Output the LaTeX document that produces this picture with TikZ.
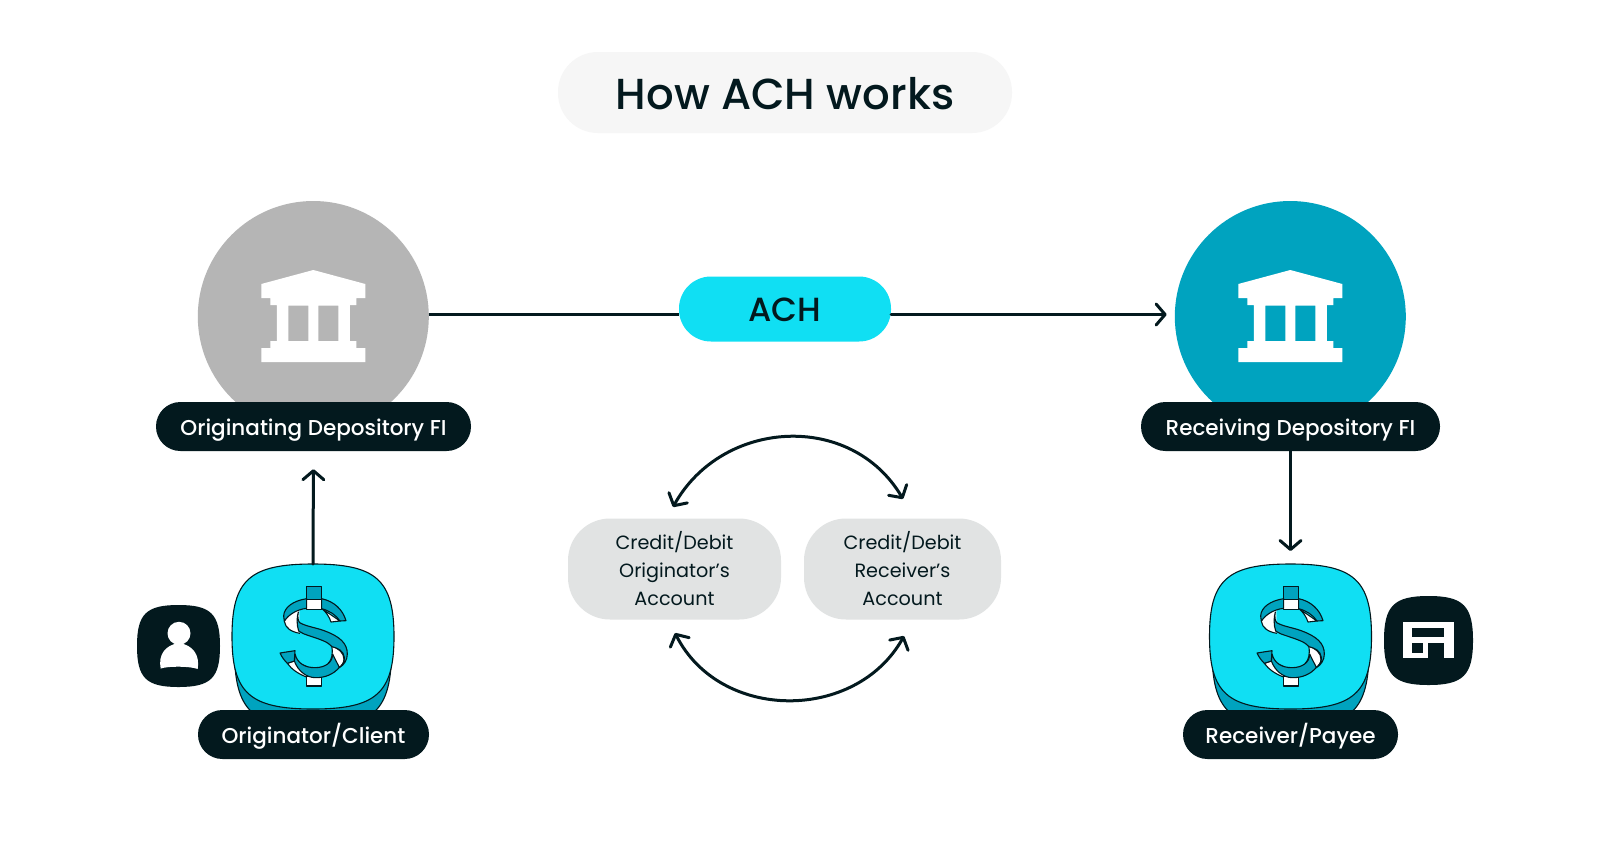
\documentclass[tikz,border=0pt]{standalone}
\usepackage{fontspec}
\setmainfont{Poppins}
\newfontfamily\medfont{Poppins Medium}
\usetikzlibrary{arrows.meta}
\definecolor{ink}{HTML}{03191E}
\definecolor{cyanbright}{HTML}{10DFF3}
\definecolor{tealdark}{HTML}{00A3BF}
\definecolor{greybank}{HTML}{B5B5B5}
\definecolor{greypill}{HTML}{E1E3E3}
\definecolor{titlepill}{HTML}{F6F6F6}
\tikzset{
  conn/.style={draw=ink,line width=3pt,line cap=round,-{Straight Barb[length=9pt,width=21pt,line width=3pt,round]}},
  connplain/.style={draw=ink,line width=3pt},
  twoway/.style={draw=ink,line width=3pt,line cap=round,{Straight Barb[length=9pt,width=21pt,line width=3pt,round]}-{Straight Barb[length=9pt,width=21pt,line width=3pt,round]}},
  labelpill/.style={fill=ink,text=white,rounded corners=24.4pt,minimum height=49pt,inner sep=0pt,text height=19pt,text depth=1.4pt,font=\fontsize{21.5}{22}\medfont},
  bankdisc/.style={circle,minimum size=231pt,inner sep=0pt},
  acctpill/.style={fill=greypill,text=ink,rounded corners=42pt,minimum height=101pt,inner sep=0pt,align=center,font=\fontsize{19.2}{28}\selectfont},
  dline/.style={draw=ink,line width=1.1pt,line join=round},
}
\newcommand{\squircle}[5]{%
  \path[#5,shift={(#1,#2)},x=#3pt,y=#4pt] (0,-1) .. controls (.78,-1) and (1,-.78) .. (1,0) .. controls (1,.78) and (.78,1) .. (0,1) .. controls (-.78,1) and (-1,.78) .. (-1,0) .. controls (-1,-.78) and (-.78,-1) .. (0,-1) -- cycle;}
\newcommand{\bankicon}[1]{%
  \path[fill=white,even odd rule,shift={(#1,0)}] (0,270) -- (52,284) -- (52,298) -- (43,298) -- (43,305) -- (36.5,305) -- (36.5,341) -- (43,341) -- (43,348) -- (52,348) -- (52,362) -- (-52,362) -- (-52,348) -- (-43,348) -- (-43,341) -- (-36.5,341) -- (-36.5,305) -- (-43,305) -- (-43,298) -- (-52,298) -- (-52,284) -- cycle
  (-25,305.5) rectangle (-5,341) (5,305.5) rectangle (25,341);}
\newcommand{\drawdollar}[1]{%
  \begin{scope}[shift={(#1+260,580)},x=.3333pt,y=-.3333pt]
    % white back faces
    \fill[white] (73,124) .. controls (84,105) and (100,95) .. (118,90) -- (118,160) .. controls (95,156) and (76,145) .. (73,124) -- cycle;
    \path[dline] (73,124) .. controls (76,145) and (95,156) .. (120,160);
    \path[dline,fill=white] (186,86) -- (240,123) -- (213,126) .. controls (208,110) and (198,96) .. (186,86) -- cycle;
    \path[dline,fill=white] (82,250) .. controls (95,268) and (115,282) .. (142,292) -- (145,262) -- (103,243) -- cycle;
    % stems
    \path[dline,fill=white] (140,290) rectangle (185,318);
    \path[dline,fill=white] (140,58) rectangle (185,88);
    \path[dline,fill=tealdark] (140,20) rectangle (185,58);
    % top ribbon
    \path[dline,fill=tealdark] (140,56) .. controls (100,62) and (72,82) .. (71,108) .. controls (71,114) and (71,118) .. (73,124) .. controls (84,105) and (110,88) .. (140,85) -- cycle;
    \path[dline,fill=tealdark] (185,56) .. controls (222,64) and (248,88) .. (258,122) -- (240,123) .. controls (228,105) and (208,92) .. (185,86) -- cycle;
    % lower right back face
    \path[dline,fill=white] (215,198) .. controls (235,205) and (252,218) .. (252,238) .. controls (252,248) and (245,258) .. (235,264) -- (205,250) .. controls (215,240) and (220,220) .. (215,198) -- cycle;
    % lower ribbon
    \path[dline,fill=tealdark] (103,243) -- (105,222) .. controls (112,250) and (135,263) .. (165,263) .. controls (195,263) and (218,248) .. (218,222) .. controls (224,235) and (232,250) .. (238,262) .. controls (222,282) and (195,294) .. (165,293) .. controls (140,292) and (115,275) .. (103,243) -- cycle;
    % central ribbon
    \path[dline,fill=tealdark] (115,96) .. controls (112,110) and (114,122) .. (119,128) .. controls (140,140) and (170,143) .. (195,153) .. controls (240,170) and (262,190) .. (262,222) .. controls (262,240) and (252,255) .. (238,263) .. controls (248,255) and (254,245) .. (253,232) .. controls (250,212) and (235,205) .. (216,200) .. controls (205,186) and (180,178) .. (150,168) .. controls (135,163) and (125,160) .. (116,153) .. controls (110,135) and (110,112) .. (115,96) -- cycle;
    % lower end
    \path[dline,fill=tealdark] (60,219) -- (105,212) -- (103,243) -- (82,250) .. controls (72,240) and (65,230) .. (60,219) -- cycle;
  \end{scope}}
\begin{document}
\begin{tikzpicture}[x=1pt,y=-1pt]
\useasboundingbox (0,0) rectangle (1600,855);
\fill[white] (0,0) rectangle (1600,855);

% title
\node[fill=titlepill,rounded corners=40pt,minimum width=454pt,minimum height=81pt,inner sep=0pt,text=ink,text height=34pt,text depth=0pt,font=\fontsize{43.4}{44}\medfont] (title) at (785,92.5) {How ACH works};

% banks
\node[bankdisc,fill=greybank] (origbank) at (313.3,316.5) {};
\node[bankdisc,fill=tealdark] (recvbank) at (1290.3,316.5) {};
\bankicon{313.3}
\bankicon{1290.3}
\node[labelpill,minimum width=315pt] (origlabel) at (313.5,426.5) {Originating Depository FI};
\node[labelpill,minimum width=299pt] (recvlabel) at (1290.5,426.5) {Receiving Depository FI};

% ACH
\node[fill=cyanbright,rounded corners=32pt,minimum width=212pt,minimum height=65pt,inner sep=0pt,text=ink,text height=24pt,text depth=0pt,font=\fontsize{33.5}{34}\medfont] (ach) at (785,309) {ACH};
\draw[connplain] ([yshift=2pt]origbank.east) -- ([yshift=2pt]origbank.east -| ach.west);
\draw[conn,shorten >=8pt] ([yshift=2pt]ach.east |- recvbank.west) -- ([yshift=2pt]recvbank.west);

% accounts
\node[acctpill,minimum width=213pt] (orig) at (674.5,569) {Credit/Debit\\Originator’s\\Account};
\node[acctpill,minimum width=197pt] (recv) at (902.5,569) {Credit/Debit\\Receiver’s\\Account};
\coordinate (topL) at (673,507);
\coordinate (topR) at (903,499);
\coordinate (botL) at (675,633);
\coordinate (botR) at (904,636);
\draw[twoway] (topL) .. controls (722,419) and (851,411) .. (topR);
\draw[twoway] (botL) .. controls (720,722) and (856,722) .. (botR);

% originator
\squircle{313}{650}{78.5}{77}{dline,fill=tealdark}
\squircle{313}{636.5}{81}{72.5}{dline,fill=cyanbright}
\drawdollar{0}
\coordinate (origtop) at (313,564);
\node[labelpill,minimum width=231pt] (origclient) at (313.5,734.5) {Originator/Client};
\draw[conn,shorten >=18pt] (origtop) -- (origlabel.south);

% receiver
\squircle{1290.5}{650}{78.5}{77}{dline,fill=tealdark}
\squircle{1290.5}{636.5}{81}{72.5}{dline,fill=cyanbright}
\drawdollar{977}
\coordinate (recvtop) at (1290.5,564);
\node[labelpill,minimum width=215pt] (recvpayee) at (1290.5,734.5) {Receiver/Payee};
\draw[conn,shorten >=13pt] (recvlabel.south) -- (recvtop);

% person badge
\squircle{178.5}{646}{41.5}{41}{fill=ink}
\fill[white] (179,633.3) circle (11.5);
\fill[white] (160.7,668.5) .. controls (158,655) and (165,645) .. (179,643) .. controls (193,645) and (200,655) .. (197.7,669) .. controls (190,666) and (168,666) .. (160.7,668.5) -- cycle;

% shop badge
\squircle{1428.5}{640.5}{44.5}{44.5}{fill=ink}
\fill[white] (1402.7,621.7) rectangle (1454,658.3);
\fill[ink] (1411.7,628.3) rectangle (1444.3,636.7);
\fill[ink] (1411.7,643.3) rectangle (1423.3,653.3);
\fill[ink] (1428.3,643.3) rectangle (1444.3,658.3);
\end{tikzpicture}
\end{document}
